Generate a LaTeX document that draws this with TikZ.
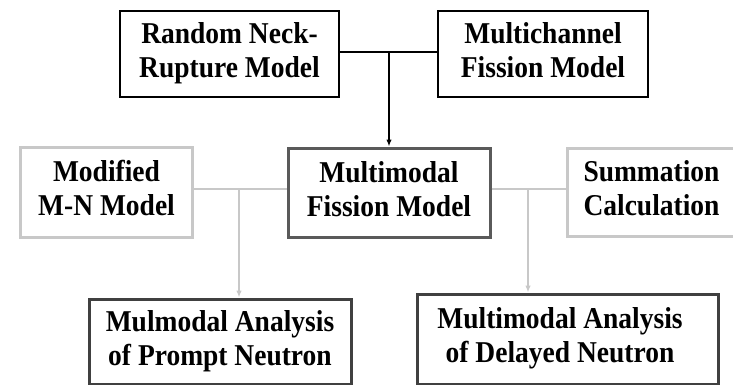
\documentclass[tikz,border=0pt]{standalone}
\usepackage{fontspec}
\usepackage{graphicx}
\setmainfont{Liberation Serif}
\usetikzlibrary{arrows.meta}
\definecolor{lightgr}{HTML}{C8C8C8}
\definecolor{midgr}{HTML}{5A5A5A}
\definecolor{darkgr}{HTML}{404040}
\newcommand{\twoline}[3][0pt]{\scalebox{1}[1.1]{\begin{tabular}{@{}c@{\hspace{#1}}}#2\\#3\end{tabular}}}
\begin{document}
\begin{tikzpicture}[x=1pt,y=-1pt,
  txt/.style={font=\fontsize{27.5}{31}\selectfont\bfseries, align=center, inner sep=0pt},
  topbox/.style={txt, draw=black, line width=1.7pt, fill=white},
  midbox/.style={txt, draw=midgr, line width=3pt, fill=white},
  sidebox/.style={txt, draw=lightgr, line width=3pt, fill=white},
  botbox/.style={txt, draw=darkgr, line width=3pt, fill=white},
  blkline/.style={draw=black, line width=2pt},
  grline/.style={draw=lightgr, line width=2.2pt},
  tip/.style={-{Latex[length=7pt,width=5.5pt]}}
]
\useasboundingbox[fill=white] (0,0) rectangle (733,385);
% top row
\node[topbox, minimum width=219pt, minimum height=86pt] (rnm) at (229.5,54) {\twoline{Random Neck-}{Rupture Model}};
\node[topbox, minimum width=210pt, minimum height=86pt] (mcf) at (543,54) {\twoline{Multichannel}{Fission Model}};
% middle row
\node[sidebox, minimum width=172pt, minimum height=90pt] (mnm) at (106.5,192) {\twoline{Modified}{M-N Model}};
\node[midbox, minimum width=202pt, minimum height=89pt] (mfm) at (389,192.5) {\twoline{Multimodal}{Fission Model}};
\node[sidebox, minimum width=169pt, minimum height=88pt] (sum) at (651.5,192) {\twoline{Summation}{Calculation}};
% bottom row
\node[botbox, minimum width=262pt, minimum height=85pt] (pan) at (220,341.5) {\twoline{Mulmodal Analysis}{of Prompt Neutron}};
\node[botbox, minimum width=301pt, minimum height=90pt] (dan) at (567.5,339) {\twoline[15pt]{Multimodal Analysis}{of Delayed Neutron}};
% junctions
\coordinate (j1) at (389,52);
\coordinate (j2) at (239,189);
\coordinate (j3) at (528,189);
% connectors
\draw[blkline] (rnm.east |- j1) -- (mcf.west |- j1);
\draw[blkline, tip] (j1) -- (j1 |- mfm.north);
\draw[grline] (mnm.east |- j2) -- (mfm.west |- j2);
\draw[grline, tip] (j2) -- (j2 |- pan.north);
\draw[grline] (mfm.east |- j3) -- (sum.west |- j3);
\draw[grline, tip] (j3) -- (j3 |- dan.north);
\end{tikzpicture}
\end{document}
